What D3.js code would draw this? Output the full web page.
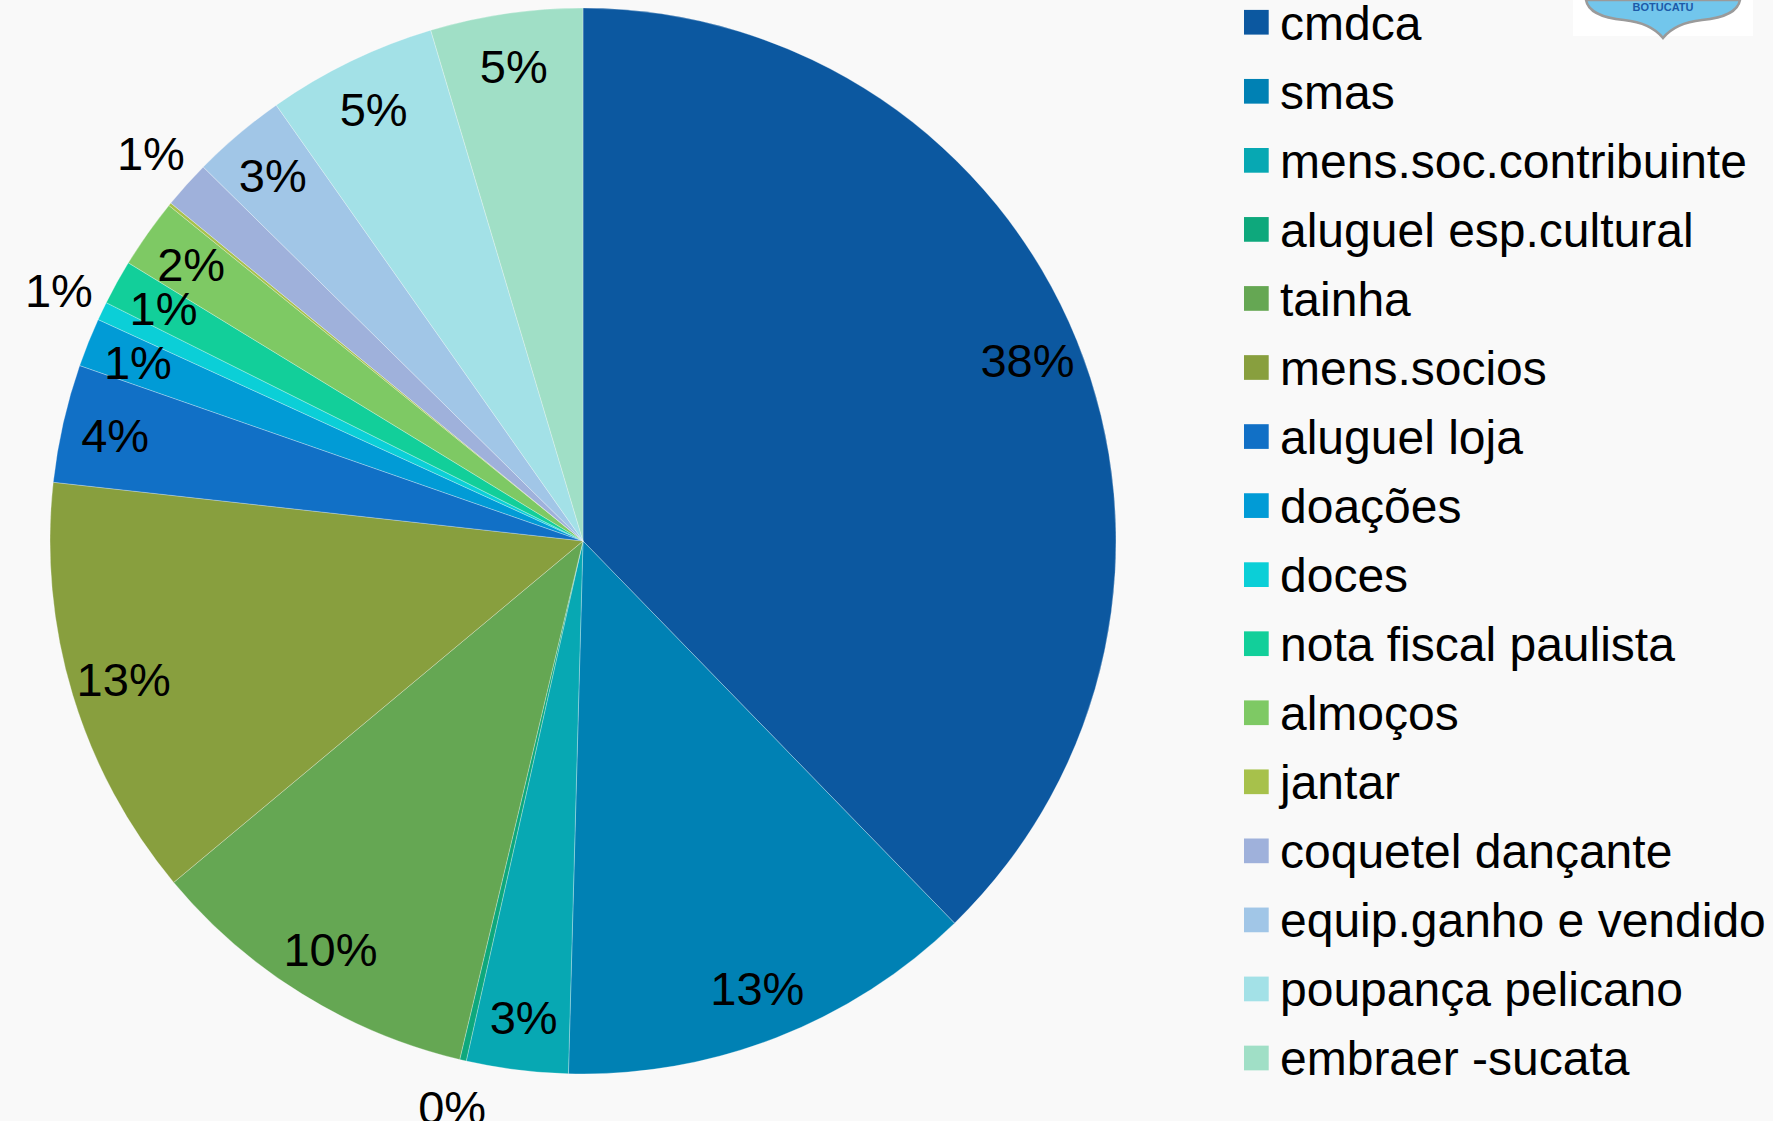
<!DOCTYPE html>
<html>
<head>
<meta charset="utf-8">
<script src="https://cdn.jsdelivr.net/npm/d3@7"></script>
<style>
  html, body { margin: 0; padding: 0; background: #f9f9f9; }
  svg { display: block; }
  text { font-family: "Liberation Sans", Arial, sans-serif; }
</style>
</head>
<body>
<svg id="chart" width="1773" height="1121"></svg>
<script>
// values (share of total, in %)
var categories = ["cmdca", "smas", "mens.soc.contribuinte", "aluguel esp.cultural", "tainha",
  "mens.socios", "aluguel loja", "doações", "doces", "nota fiscal paulista", "almoços",
  "jantar", "coquetel dançante", "equip.ganho e vendido", "poupança pelicano", "embraer -sucata"];
var values = [37.72, 12.71, 3.08, 0.2, 10.22, 12.82, 3.58, 1.48, 0.56, 1.36, 2.10, 0.09, 1.45, 2.86, 5.15, 4.61];
var colors = ["#0c58a0", "#0081b4", "#07a8b3", "#0ea87c", "#65a753", "#889f3e", "#1170c6", "#019bd6",
  "#0bcfd7", "#12cf9a", "#7ec964", "#a7c14b", "#9fb1db", "#a1c6e7", "#a3e1e7", "#a0dfc6"];
// labels Excel put outside the pie, and the one it left out
var outsideLabels = ["aluguel esp.cultural", "doces", "coquetel dançante"];
var hiddenLabels = ["jantar"];

var svg = d3.select('#chart');
var cx = 583, cy = 541, radius = 533;

var color = d3.scaleOrdinal().domain(categories).range(colors);
var total = d3.sum(values);
var fmt = d3.format('.0%');

var data = categories.map(function(c, i) { return {name: c, value: values[i]}; });
var pie = d3.pie().sort(null).value(function(d) { return d.value; });
var arcs = pie(data);

var arc = d3.arc().innerRadius(0).outerRadius(radius);
var inArc = d3.arc().innerRadius(radius * 0.9).outerRadius(radius * 0.9);
var outArc = d3.arc().innerRadius(radius * 1.09).outerRadius(radius * 1.09);

var g = svg.append('g').attr('transform', 'translate(' + cx + ',' + cy + ')');

g.selectAll('path.slice')
  .data(arcs)
  .enter().append('path')
  .attr('class', 'slice')
  .attr('d', arc)
  .attr('fill', function(d) { return color(d.data.name); })
  .attr('stroke', 'rgba(255,255,255,0.35)')
  .attr('stroke-width', 0.8);

g.selectAll('text.lbl')
  .data(arcs.filter(function(d) { return hiddenLabels.indexOf(d.data.name) < 0; }))
  .enter().append('text')
  .attr('class', 'lbl')
  .attr('transform', function(d) {
    var a = outsideLabels.indexOf(d.data.name) >= 0 ? outArc : inArc;
    return 'translate(' + a.centroid(d) + ')';
  })
  .attr('text-anchor', 'middle')
  .attr('dy', '0.36em')
  .attr('font-size', 47)
  .attr('fill', '#000')
  .text(function(d) { return fmt(d.data.value / total); });

// legend
var rowY = d3.scalePoint().domain(categories).range([9.9, 9.9 + 15 * 69.05]);
var legend = svg.append('g').attr('class', 'legend');
var rows = legend.selectAll('g.row')
  .data(categories)
  .enter().append('g')
  .attr('class', 'row')
  .attr('transform', function(d) { return 'translate(1244,' + rowY(d) + ')'; });

rows.append('rect')
  .attr('width', 24.7).attr('height', 24.7)
  .attr('fill', function(d) { return color(d); });

rows.append('text')
  .attr('x', 36).attr('y', 29.6)
  .attr('font-size', 48)
  .attr('fill', '#000')
  .text(function(d) { return d; });

// logo corner (partial shield cut by the top edge)
var logo = svg.append('g');
logo.append('rect').attr('x', 1573).attr('y', 0).attr('width', 180).attr('height', 36).attr('fill', '#ffffff');
logo.append('path')
  .attr('d', 'M1586,0 L1740,0 C1738,11 1724,18 1702,20 C1684,22 1671,28 1663,38 C1655,28 1642,22 1624,20 C1602,18 1588,11 1586,0 Z')
  .attr('fill', '#72c6ec').attr('stroke', '#9a9a9a').attr('stroke-width', 2.5);
logo.append('text')
  .attr('x', 1663).attr('y', 11)
  .attr('text-anchor', 'middle')
  .attr('font-size', 11).attr('font-weight', 'bold')
  .attr('fill', '#1d5aa8')
  .text('BOTUCATU');
</script>
</body>
</html>
